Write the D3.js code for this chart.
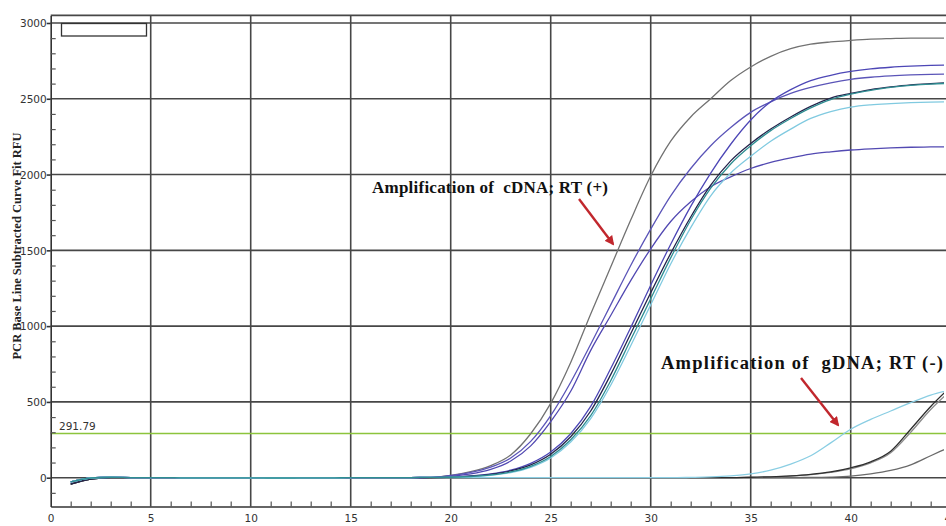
<!DOCTYPE html>
<html>
<head>
<meta charset="utf-8">
<script src="https://cdn.jsdelivr.net/npm/d3@7/dist/d3.min.js"></script>
<style>
  body { margin: 0; background: #fff; }
  svg { display: block; }
</style>
</head>
<body>
<div id="chart"></div>
<script>
// cycle numbers (x) for every curve
const cycles = [1,2,3,4,5,6,7,8,9,10,11,12,13,14,15,16,17,18,19,20,21,22,23,24,25,26,27,28,29,30,
                31,32,33,34,35,36,37,38,39,40,41,42,43,44,45];

// cycles 1-19: early dip, then flat baseline
const earlyCDNA = [-28,-2,3,1,0,0,-1,-1,-1,-1,-2,-2,-1,-1,0,0,0,1,2];
const earlyGDNA = [-42,-9,1,0,0,0,-1,-1,-1,-1,-1,-1,-1,-1,0,0,0,0,0];

// cycles 20-45, RT (+) cDNA curves
const greyCurve   = [15,40,80,150,290,490,760,1080,1390,1700,1990,2220,2380,2500,2620,2710,2780,2830,2860,2875,2885,2893,2897,2900,2900,2900];
const purpleEarly = [15,35,70,130,240,410,630,880,1140,1400,1640,1860,2040,2190,2310,2410,2480,2535,2575,2605,2628,2642,2651,2657,2661,2663];
const purpleLow   = [10,25,55,110,210,370,570,840,1070,1300,1510,1690,1820,1920,1985,2040,2080,2110,2135,2150,2162,2170,2176,2180,2182,2183];
const blueLate    = [5,12,25,50,95,170,290,470,720,990,1270,1540,1790,2010,2200,2360,2480,2560,2620,2655,2680,2697,2708,2715,2720,2723];
const navyLate    = [4,10,22,45,85,155,270,440,680,950,1220,1480,1720,1930,2090,2205,2300,2380,2450,2505,2535,2560,2578,2592,2600,2606];
const tealLate    = [3,8,18,38,75,140,250,410,640,910,1180,1450,1700,1910,2070,2190,2290,2370,2440,2495,2530,2555,2575,2588,2597,2602];
const cyanLate    = [3,7,16,34,68,130,235,390,610,870,1140,1410,1650,1860,2010,2120,2220,2300,2370,2415,2445,2460,2468,2474,2478,2480];

// cycles 20-45, RT (-) gDNA curves
const cyanG  = [0,0,0,0,0,0,0,0,0,0,0,0,2,5,12,25,50,90,145,230,320,385,440,495,545,580];
const greyG1 = [0,0,0,0,0,0,0,0,0,0,0,0,0,0,0,3,6,12,22,38,65,105,175,320,470,600];
const greyG2 = [0,0,0,0,0,0,0,0,0,0,0,0,0,0,0,2,5,10,20,35,58,98,165,300,450,575];
const greyG3 = [0,0,0,0,0,0,0,0,0,0,0,0,0,0,0,0,0,0,2,4,10,25,48,85,145,205];

const threshold = 291.79;
const xTicks = [0,5,10,15,20,25,30,35,40,45];
const yTicks = [0,500,1000,1500,2000,2500,3000];

const series = [
    {early: earlyGDNA, tail: greyG3, color: "#6a6a6a"},
    {early: earlyGDNA, tail: greyG2, color: "#8c8c8c"},
    {early: earlyGDNA, tail: greyG1, color: "#2e2e2e"},
    {early: earlyCDNA, tail: greyCurve, color: "#727272"},
    {early: earlyCDNA, tail: purpleEarly, color: "#5b55b8"},
    {early: earlyCDNA, tail: purpleLow, color: "#5249b2"},
    {early: earlyCDNA, tail: blueLate, color: "#4d47b6"},
    {early: earlyGDNA, tail: navyLate, color: "#24244c"},
    {early: earlyCDNA, tail: cyanLate, color: "#80cae0"},
    {early: earlyCDNA, tail: cyanG, color: "#8acee3"},
    {early: earlyCDNA, tail: tealLate, color: "#2f8e92"}
];

const width = 946, height = 526;
const svg = d3.select("#chart").append("svg")
    .attr("width", width)
    .attr("height", height);

const x = d3.scaleLinear().domain([0, 45]).range([50.7, 950.7]);
const y = d3.scaleLinear().domain([-190, 3050]).range([506.5, 15.4]);
const plotRight = 946;

// grid
const gridColor = "#474747";
svg.append("g").selectAll("line")
    .data(xTicks.filter(d => d > 0))
    .join("line")
    .attr("x1", d => x(d)).attr("x2", d => x(d))
    .attr("y1", y(3050)).attr("y2", y(-190))
    .attr("stroke", gridColor).attr("stroke-width", 1.6);

svg.append("g").selectAll("line")
    .data(yTicks.concat([3050]))
    .join("line")
    .attr("x1", x(0)).attr("x2", plotRight)
    .attr("y1", d => y(d)).attr("y2", d => y(d))
    .attr("stroke", gridColor).attr("stroke-width", 1.6);

// threshold
svg.append("line")
    .attr("x1", x(0)).attr("x2", plotRight)
    .attr("y1", y(threshold)).attr("y2", y(threshold))
    .attr("stroke", "#8cc43c").attr("stroke-width", 1.6);
svg.append("text")
    .attr("x", 59).attr("y", y(threshold) - 3)
    .attr("font-family", "DejaVu Sans").attr("font-size", 10.5)
    .attr("fill", "#333")
    .text(threshold.toFixed(2));

// curves
svg.append("clipPath").attr("id", "plotClip")
    .append("rect").attr("x", x(0)).attr("y", y(3050))
    .attr("width", 944 - x(0)).attr("height", y(-190) - y(3050));

const line = d3.line()
    .curve(d3.curveMonotoneX)
    .x((d, i) => x(cycles[i]))
    .y(d => y(d));

svg.append("g").attr("clip-path", "url(#plotClip)")
    .selectAll("path")
    .data(series)
    .join("path")
    .attr("fill", "none")
    .attr("stroke", d => d.color)
    .attr("stroke-width", 1.3)
    .attr("d", d => line(d.early.concat(d.tail)));

// axes
const yAxis = svg.append("g")
    .attr("transform", `translate(${x(0)},0)`)
    .call(d3.axisLeft(y).tickValues(yTicks).tickFormat(d3.format("d")).tickSize(4).tickSizeOuter(0));
yAxis.select(".domain").attr("stroke", "#333").attr("stroke-width", 1.6);
yAxis.selectAll(".tick line").attr("stroke", "#333").attr("stroke-width", 1.6);
yAxis.selectAll("text").attr("font-family", "DejaVu Sans").attr("font-size", 10.5)
    .attr("fill", "#333").attr("x", -4).attr("dy", "0.35em");

svg.append("g")
    .attr("transform", `translate(${x(0)},0)`)
    .call(d3.axisRight(y).tickValues(d3.range(-100, 3000, 100).filter(v => v % 500 !== 0))
        .tickSize(5).tickFormat("").tickSizeOuter(0))
    .call(g => g.select(".domain").remove())
    .selectAll("line").attr("stroke", "#555").attr("stroke-width", 1.2);

const xAxis = svg.append("g")
    .attr("transform", `translate(0,${y(-190)})`)
    .call(d3.axisBottom(x).tickValues(xTicks).tickSize(0).tickSizeOuter(0));
xAxis.select(".domain").attr("stroke", "#333").attr("stroke-width", 1.6);
xAxis.selectAll("text").attr("font-family", "DejaVu Sans").attr("font-size", 10.5)
    .attr("fill", "#333").attr("y", 8);

svg.append("g")
    .attr("transform", `translate(0,${y(-190)})`)
    .call(d3.axisTop(x).tickValues(d3.range(1, 45).filter(v => v % 5 !== 0))
        .tickSize(5).tickFormat("").tickSizeOuter(0))
    .call(g => g.select(".domain").remove())
    .selectAll("line").attr("stroke", "#555").attr("stroke-width", 1.2);

// y axis title
svg.append("text")
    .attr("transform", `translate(21,246) rotate(-90)`)
    .attr("text-anchor", "middle")
    .attr("font-family", "Liberation Serif").attr("font-weight", "bold")
    .attr("font-size", 12.5)
    .attr("fill", "#222")
    .text("PCR Base Line Subtracted Curve Fit RFU");

// empty legend box
svg.append("rect")
    .attr("x", 61.5).attr("y", 23.5).attr("width", 85).attr("height", 12.5)
    .attr("fill", "#fff").attr("stroke", "#333").attr("stroke-width", 1.3);

// annotations
const defs = svg.append("defs");
defs.append("marker")
    .attr("id", "arrowHead")
    .attr("viewBox", "0 0 10 10")
    .attr("refX", 8).attr("refY", 5)
    .attr("markerWidth", 4).attr("markerHeight", 4)
    .attr("orient", "auto")
    .append("path").attr("d", "M0,0L10,5L0,10z").attr("fill", "#c1272d");

const notes = [
    {text: "Amplification of  cDNA; RT (+)", tx: 372, ty: 193, size: 17, len: 236, from: [579, 199], to: [613, 244]},
    {text: "Amplification of  gDNA; RT (-)", tx: 661, ty: 369, size: 18.5, len: 282, from: [801, 378], to: [838, 425]}
];
notes.forEach(n => {
    svg.append("text")
        .attr("x", n.tx).attr("y", n.ty)
        .attr("font-family", "Liberation Serif").attr("font-weight", "bold")
        .attr("font-size", n.size).attr("fill", "#111")
        .attr("xml:space", "preserve")
        .attr("textLength", n.len).attr("lengthAdjust", "spacing")
        .text(n.text);
    svg.append("line")
        .attr("x1", n.from[0]).attr("y1", n.from[1])
        .attr("x2", n.to[0]).attr("y2", n.to[1])
        .attr("stroke", "#c1272d").attr("stroke-width", 2.4)
        .attr("marker-end", "url(#arrowHead)");
});
</script>
</body>
</html>
